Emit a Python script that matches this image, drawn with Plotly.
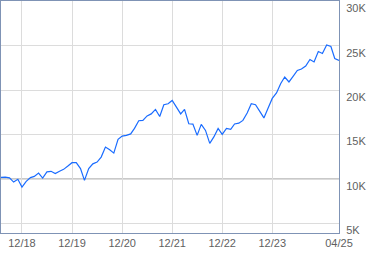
import plotly.graph_objects as go
import pandas as pd

# Monthly growth of $10K, Jul 2018 .. Apr 2025 (values in dollars)
values_k = [
    10.19, 10.22, 10.13, 9.66, 9.97, 9.10, 9.74, 10.16, 10.30, 10.67,
    10.11, 10.81, 10.87, 10.61, 10.87, 11.09, 11.46, 11.84, 11.84, 11.17,
    9.85, 11.17, 11.71, 11.91, 12.47, 13.60, 13.30, 12.92, 14.46, 14.83,
    14.91, 15.08, 15.70, 16.56, 16.60, 17.10, 17.33, 17.83, 17.04, 18.36,
    18.47, 18.84, 18.09, 17.33, 17.83, 16.22, 16.18, 14.91, 16.15, 15.47,
    14.01, 14.74, 15.70, 15.02, 15.70, 15.58, 16.20, 16.29, 16.60, 17.42,
    18.47, 18.36, 17.61, 16.88, 18.00, 19.07, 19.69, 20.75, 21.48, 20.92,
    21.54, 22.21, 22.38, 22.72, 23.45, 23.17, 24.35, 24.12, 25.08, 24.91,
    23.56, 23.34,
]
values = [v * 1000 for v in values_k]
dates = pd.date_range("2018-07-01", periods=len(values), freq="MS")

x_tick_dates = ["2018-12-01", "2019-12-01", "2020-12-01", "2021-12-01",
                "2022-12-01", "2023-12-01", "2025-04-01"]
x_tick_labels = ["12/18", "12/19", "12/20", "12/21", "12/22", "12/23", "04/25"]
y_tick_vals = [5000, 10000, 15000, 20000, 25000, 30000]
y_tick_labels = ["5K", "10K", "15K", "20K", "25K", "30K"]
baseline = 10000

frame = "#7f93b5"
grid = "#dcdcdc"
text = "#5f5f5f"

fig = go.Figure()
fig.add_trace(go.Scatter(
    x=dates, y=values, mode="lines",
    line=dict(color="#1a6cff", width=1.2),
    hoverinfo="skip",
))
fig.add_hline(y=baseline, line=dict(color="#8c8c8c", width=1), layer="below")

fig.update_layout(
    width=379, height=255,
    margin=dict(l=1, r=40, t=1, b=22),
    paper_bgcolor="white", plot_bgcolor="white",
    showlegend=False,
    font=dict(family="Liberation Sans, Arial, sans-serif", size=11, color=text),
)
fig.update_xaxes(
    type="date",
    range=[dates[0], dates[-1]],
    tickvals=x_tick_dates, ticktext=x_tick_labels,
    showgrid=True, gridcolor=grid, gridwidth=1,
    showline=True, linecolor=frame, linewidth=1, mirror=True,
    ticks="", zeroline=False,
    tickfont=dict(size=11, color=text),
)
fig.update_yaxes(
    range=[3930, 30030],
    tickvals=y_tick_vals, ticktext=y_tick_labels,
    side="right",
    showgrid=True, gridcolor=grid, gridwidth=1,
    showline=True, linecolor=frame, linewidth=1, mirror=True,
    ticks="", zeroline=False,
    ticklabelshift=7, ticklabelstandoff=4,
    tickfont=dict(size=11, color=text),
)

fig.write_html("out.html")
